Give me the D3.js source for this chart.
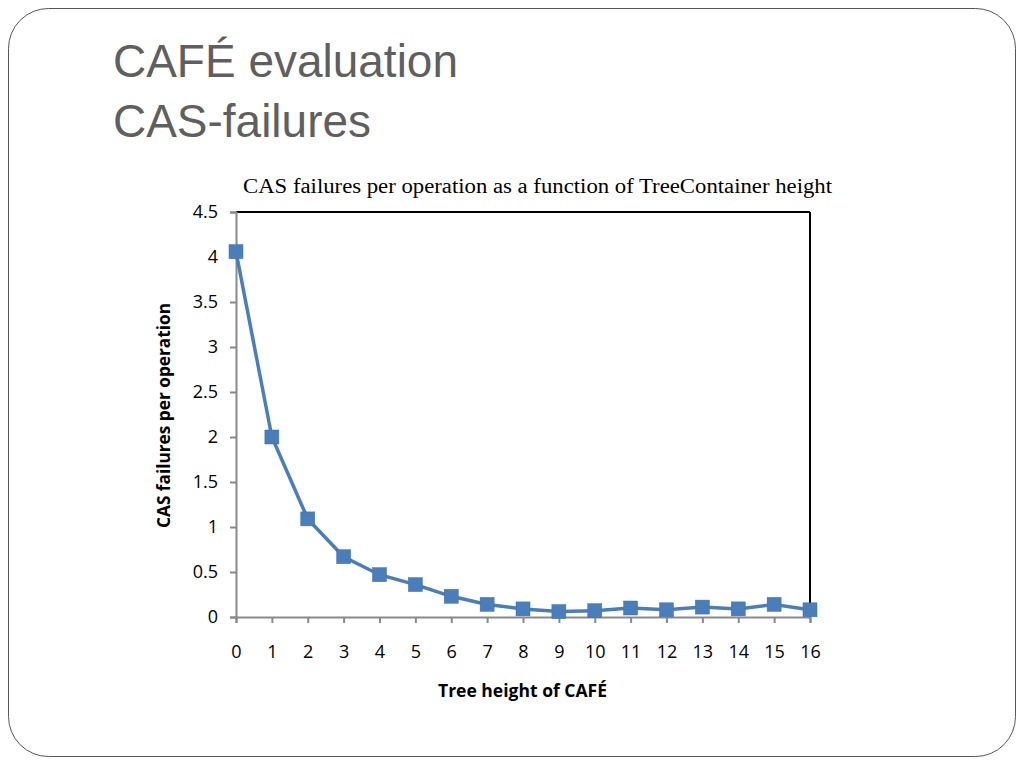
<!DOCTYPE html>
<html><head><meta charset="utf-8">
<script src="https://cdn.jsdelivr.net/npm/d3@7"></script>
<style>body{margin:0;background:#fff;}svg{display:block;}</style>
</head><body>
<svg id="c" width="1024" height="768"></svg>
<script>
const heights = [0,1,2,3,4,5,6,7,8,9,10,11,12,13,14,15,16];
const casFailures = [4.06,2.0,1.09,0.67,0.47,0.36,0.23,0.14,0.09,0.06,0.07,0.10,0.08,0.11,0.09,0.14,0.08];
const yTicks = [0,0.5,1,1.5,2,2.5,3,3.5,4,4.5];
const slideTitle = ["CAFÉ evaluation","CAS-failures"];
const chartTitle = "CAS failures per operation as a function of TreeContainer height";
const xLabel = "Tree height of CAFÉ";
const yLabel = "CAS failures per operation";

const svg = d3.select("#c");
svg.append("rect").attr("x",8.5).attr("y",8.5).attr("width",1007).attr("height",748)
  .attr("rx",40).attr("fill","#fff").attr("stroke","#555").attr("stroke-width",1);

const tl = svg.append("g");
tl.append("text").attr("x",113).attr("y",77).text(slideTitle[0])
  .attr("font-family","'Liberation Sans Narrow','Arial Narrow',sans-serif").attr("font-size",46)
  .attr("fill","#5f5f5f").attr("textLength",345).attr("lengthAdjust","spacingAndGlyphs");
tl.append("text").attr("x",113).attr("y",137).text(slideTitle[1])
  .attr("font-family","'Liberation Sans Narrow','Arial Narrow',sans-serif").attr("font-size",46)
  .attr("fill","#5f5f5f").attr("textLength",258).attr("lengthAdjust","spacingAndGlyphs");

svg.append("text").attr("x",243).attr("y",193).text(chartTitle)
  .attr("font-family","'Liberation Serif','Times New Roman',serif").attr("font-size",20)
  .attr("fill","#000").attr("textLength",589).attr("lengthAdjust","spacingAndGlyphs");

const x = d3.scaleLinear().domain([0,16]).range([236,810]);
const y = d3.scaleLinear().domain([0,4.5]).range([617,212]);

svg.append("line").attr("x1",x(0)).attr("x2",x(16)).attr("y1",y(4.5)).attr("y2",y(4.5)).attr("stroke","#000").attr("stroke-width",2);
svg.append("line").attr("x1",x(16)).attr("x2",x(16)).attr("y1",y(4.5)).attr("y2",y(0)).attr("stroke","#000").attr("stroke-width",2);

const font = "'Open Sans','Noto Sans',sans-serif";
const yAxis = svg.append("g").attr("transform",`translate(${x(0)},0)`)
  .call(d3.axisLeft(y).tickValues(yTicks).tickSize(6).tickPadding(12).tickFormat(d3.format("")));
const xAxis = svg.append("g").attr("transform",`translate(0,${y(0)})`)
  .call(d3.axisBottom(x).tickValues(heights).tickSize(6).tickPadding(22).tickFormat(d3.format("d")));
[yAxis,xAxis].forEach(a=>{
  a.attr("font-size",18);
  a.select(".domain").attr("stroke","#898989").attr("stroke-width",2);
  a.selectAll(".tick line").attr("stroke","#898989").attr("stroke-width",2);
  a.selectAll(".tick text").attr("font-family",font).attr("font-size",18).attr("fill","#000");
});

svg.append("text").attr("x",438).attr("y",697).text(xLabel)
  .attr("font-family",font).attr("font-weight","bold").attr("font-size",17).attr("fill","#000")
  .attr("textLength",169).attr("lengthAdjust","spacingAndGlyphs");
svg.append("text").attr("transform","translate(170,528) rotate(-90)").text(yLabel)
  .attr("font-family",font).attr("font-weight","bold").attr("font-size",17).attr("fill","#000")
  .attr("textLength",225).attr("lengthAdjust","spacingAndGlyphs");

const data = heights.map((h,i)=>({h, v:casFailures[i]}));
svg.append("path").datum(data)
  .attr("d",d3.line().x(d=>x(d.h)).y(d=>y(d.v)))
  .attr("fill","none").attr("stroke","#4a7ebb").attr("stroke-width",3.5);
const s = 14;
svg.selectAll("rect.m").data(data).join("rect").attr("class","m")
  .attr("x",d=>x(d.h)-s/2).attr("y",d=>y(d.v)-s/2).attr("width",s).attr("height",s)
  .attr("fill","#4a7ebb").attr("stroke","#3f70ad").attr("stroke-width",0.5);
</script>
</body></html>
